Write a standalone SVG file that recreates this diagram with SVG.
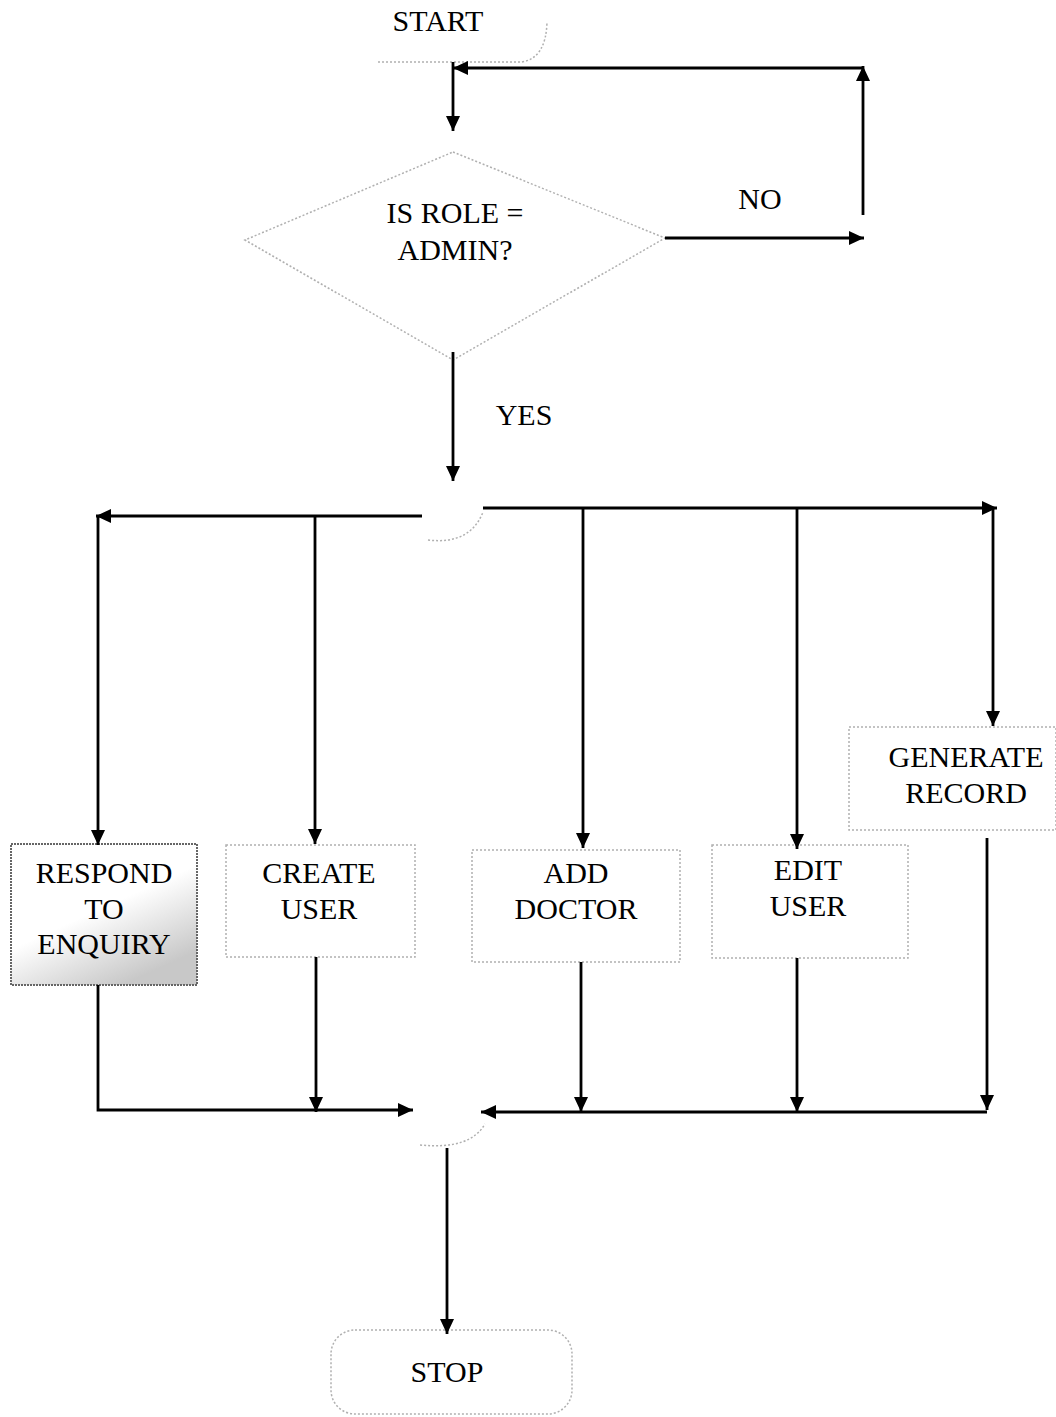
<svg xmlns="http://www.w3.org/2000/svg" width="1056" height="1417" viewBox="0 0 1056 1417">
<defs>
<marker id="ah" viewBox="0 0 15 14" refX="15" refY="7" markerWidth="15" markerHeight="14" markerUnits="userSpaceOnUse" orient="auto">
<path d="M0,0 L15,7 L0,14 Z" fill="#000"/>
</marker>
<linearGradient id="shade" x1="0" y1="0" x2="0.6" y2="1">
<stop offset="0.55" stop-color="#fff"/>
<stop offset="1" stop-color="#c8c8c8"/>
</linearGradient>
</defs>
<style>
.lbl{font-family:"Liberation Serif","Times New Roman",serif;font-size:30px;fill:#000;text-anchor:middle}
.shape{fill:none;stroke:#b0b0b0;stroke-width:1.5;stroke-dasharray:2 2}
.edge{fill:none;stroke:#000;stroke-width:2.8}
.arr{marker-end:url(#ah)}
</style>
<rect width="1056" height="1417" fill="#fff"/>

<g id="start">
<path class="shape" d="M378,62 L522,62 Q546,58 547,22"/>
<text class="lbl" x="438" y="31">START</text>
</g>

<g id="decision">
<path class="shape" d="M453,152 L665,238 L453,360 L245,240 Z"/>
<text class="lbl" x="455" y="223">IS ROLE =</text>
<text class="lbl" x="455" y="260">ADMIN?</text>
</g>

<g id="junction1">
<path class="shape" d="M428,540 Q470,545 483,512"/>
</g>

<g id="respond">
<rect x="11" y="844" width="186" height="141" fill="url(#shade)" stroke="#666" stroke-width="2" stroke-dasharray="2 1"/>
<text class="lbl" x="104" y="883">RESPOND</text>
<text class="lbl" x="104" y="919">TO</text>
<text class="lbl" x="104" y="954">ENQUIRY</text>
</g>

<g id="create">
<rect class="shape" x="226" y="845" width="189" height="112"/>
<text class="lbl" x="319" y="883">CREATE</text>
<text class="lbl" x="319" y="919">USER</text>
</g>

<g id="adddoctor">
<rect class="shape" x="472" y="850" width="208" height="112"/>
<text class="lbl" x="576" y="883">ADD</text>
<text class="lbl" x="576" y="919">DOCTOR</text>
</g>

<g id="edituser">
<rect class="shape" x="712" y="845" width="196" height="113"/>
<text class="lbl" x="808" y="880">EDIT</text>
<text class="lbl" x="808" y="916">USER</text>
</g>

<g id="generate">
<rect class="shape" x="849" y="727" width="207" height="103"/>
<text class="lbl" x="966" y="767">GENERATE</text>
<text class="lbl" x="966" y="803">RECORD</text>
</g>

<g id="junction2">
<path class="shape" d="M420,1145 Q470,1150 485,1124"/>
</g>

<g id="stop">
<rect class="shape" x="331" y="1330" width="241" height="84" rx="24"/>
<text class="lbl" x="447" y="1382">STOP</text>
</g>

<g id="connectors">
<line class="edge arr" x1="453" y1="62" x2="453" y2="131"/>
<line class="edge arr" x1="665" y1="238" x2="864" y2="238"/>
<line class="edge arr" x1="863" y1="215" x2="863" y2="66"/>
<line class="edge arr" x1="864" y1="68" x2="453" y2="68"/>
<text class="lbl" x="760" y="209">NO</text>
<line class="edge arr" x1="453" y1="352" x2="453" y2="481"/>
<text class="lbl" x="524" y="425">YES</text>

<line class="edge arr" x1="422" y1="516" x2="96" y2="516"/>
<line class="edge arr" x1="98" y1="516" x2="98" y2="845"/>
<line class="edge arr" x1="315" y1="516" x2="315" y2="844"/>
<line class="edge arr" x1="483" y1="508" x2="997" y2="508"/>
<line class="edge arr" x1="583" y1="508" x2="583" y2="848"/>
<line class="edge arr" x1="797" y1="508" x2="797" y2="849"/>
<line class="edge arr" x1="993" y1="508" x2="993" y2="726"/>

<path class="edge arr" d="M98,985 L98,1110 L413,1110"/>
<line class="edge arr" x1="316" y1="957" x2="316" y2="1112"/>
<line class="edge arr" x1="581" y1="962" x2="581" y2="1112"/>
<line class="edge arr" x1="797" y1="958" x2="797" y2="1112"/>
<line class="edge arr" x1="987" y1="838" x2="987" y2="1110"/>
<line class="edge arr" x1="987" y1="1112" x2="481" y2="1112"/>
<line class="edge arr" x1="447" y1="1148" x2="447" y2="1334"/>
</g>
</svg>
